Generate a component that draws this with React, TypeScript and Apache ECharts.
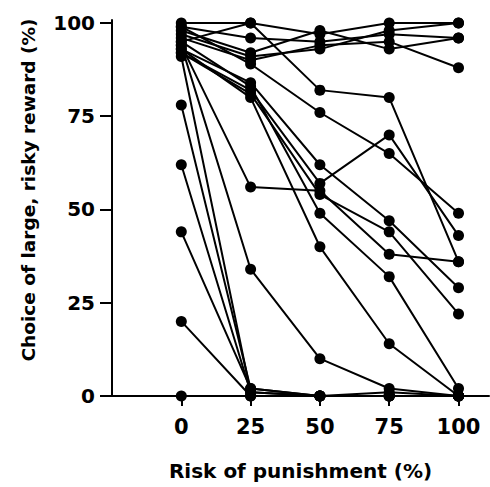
import React, { useEffect, useRef } from "react";
import * as echarts from "echarts";

const riskLevels = [0, 25, 50, 75, 100];
const tickValues = [0, 25, 50, 75, 100];

const s01 = [100, 100, 97, 100, 100];
const s02 = [99, 96, 95, 97, 96];
const s03 = [98, 92, 98, 93, 96];
const s04 = [97, 91, 93, 98, 100];
const s05 = [96, 90, 94, 95, 88];
const s06 = [95, 100, 82, 80, 36];
const s07 = [99, 89, 76, 65, 49];
const s08 = [93, 84, 62, 47, 29];
const s09 = [92, 82, 57, 70, 43];
const s10 = [94, 56, 55, 38, 36];
const s11 = [92, 81, 54, 44, 22];
const s12 = [95, 83, 49, 32, 2];
const s13 = [93, 80, 40, 14, 0];
const s14 = [94, 34, 10, 2, 0];
const s15 = [91, 1, 0, 0, 0];
const s16 = [78, 2, 0, 0, 0];
const s17 = [62, 1, 0, 1, 0];
const s18 = [44, 2, 0, 0, 0];
const s19 = [20, 0, 0, 0, 0];
const s20 = [0, 0, 0, 0, 0];

const subjects = [s01, s02, s03, s04, s05, s06, s07, s08, s09, s10, s11, s12, s13, s14, s15, s16, s17, s18, s19, s20];

const xTitle = "Risk of punishment (%)";
const yTitle = "Choice of large, risky reward (%)";

const FONT = "'DejaVu Sans', Arial, sans-serif";

export default function App() {
  const ref = useRef<HTMLDivElement>(null);
  useEffect(() => {
    if (!ref.current) return;
    const chart = echarts.init(ref.current, undefined, { renderer: "svg" });
    const series = subjects.map((vals, i) => ({
      type: "line",
      name: "S" + (i + 1),
      data: riskLevels.map((x, j) => [x, vals[j]]),
      symbol: "circle",
      symbolSize: 11,
      showSymbol: true,
      itemStyle: { color: "#000" },
      lineStyle: { color: "#000", width: 2 },
      emphasis: { disabled: true },
    }));
    chart.setOption({
      animation: false,
      backgroundColor: "#fff",
      grid: { left: 112, right: 1, top: 20, bottom: 91, containLabel: false },
      xAxis: {
        type: "value",
        min: -25,
        max: 111,
        interval: 25,
        name: xTitle,
        nameLocation: "middle",
        nameGap: 65,
        nameTextStyle: { fontFamily: FONT, fontWeight: "bold", fontSize: 20, color: "#000" },
        axisLine: { show: true, onZero: false, lineStyle: { color: "#000", width: 2 } },
        axisTick: { show: true, length: 10, inside: false, customValues: tickValues, lineStyle: { color: "#000", width: 2 } },
        axisLabel: {
          customValues: tickValues,
          margin: 20,
          fontFamily: FONT,
          fontWeight: "bold",
          fontSize: 21,
          color: "#000",
          formatter: (v: number) => (v < 0 ? "" : String(v)),
        },
        splitLine: { show: false },
      },
      yAxis: {
        type: "value",
        min: 0,
        max: 100.8,
        interval: 25,
        axisLine: { show: true, onZero: false, lineStyle: { color: "#000", width: 2 } },
        axisTick: { show: true, length: 12, customValues: tickValues, lineStyle: { color: "#000", width: 2 } },
        axisLabel: {
          customValues: tickValues,
          margin: 17,
          fontFamily: FONT,
          fontWeight: "bold",
          fontSize: 20,
          color: "#000",
        },
        splitLine: { show: false },
      },
      graphic: [
        {
          type: "text",
          x: 28,
          y: 190,
          rotation: Math.PI / 2,
          style: {
            text: yTitle,
            fontFamily: FONT,
            fontWeight: "bold",
            fontSize: 18.5,
            fill: "#000",
            align: "center",
            verticalAlign: "middle",
          },
        },
      ],
      series,
    });
    return () => chart.dispose();
  }, []);
  return (
    <div
      ref={ref}
      style={{ position: "fixed", left: 0, top: 0, width: 490, height: 487, background: "#fff" }}
    />
  );
}
